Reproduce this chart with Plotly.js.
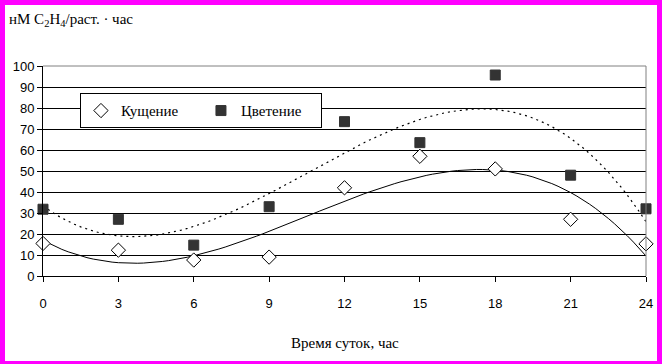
<!DOCTYPE html>
<html><head><meta charset="utf-8">
<script src="https://cdn.plot.ly/plotly-3.0.1.min.js"></script>
<style>
html,body{margin:0;padding:0;background:#ff00ff;width:662px;height:364px;overflow:hidden}
#wrap{position:absolute;left:5px;top:5px;width:652px;height:356px;background:#fff}
#chart{width:652px;height:356px}
</style></head>
<body><div id="wrap"><div id="chart"></div></div>
<script>
const hours = [0, 3, 6, 9, 12, 15, 18, 21, 24];
const tilleringValues = [15.5, 12.3, 7.6, 9, 42, 57, 51, 27, 15.3];
const floweringValues = [31.8, 27, 14.7, 33, 73.5, 63.5, 95.7, 48, 32];
const seriesNames = ['Кущение', 'Цветение'];
const yTicks = [0,10,20,30,40,50,60,70,80,90,100];
const xTicks = [0,3,6,9,12,15,18,21,24];

// Polynomial (cubic) least-squares trendline, like the spreadsheet trendline
function polyFit(xs, ys, deg) {
  const n = deg + 1;
  const A = Array.from({length: n}, () => new Array(n + 1).fill(0));
  for (let k = 0; k < xs.length; k++) {
    for (let i = 0; i < n; i++) {
      for (let j = 0; j < n; j++) A[i][j] += Math.pow(xs[k], i + j);
      A[i][n] += ys[k] * Math.pow(xs[k], i);
    }
  }
  for (let i = 0; i < n; i++) {
    let p = i;
    for (let r = i + 1; r < n; r++) if (Math.abs(A[r][i]) > Math.abs(A[p][i])) p = r;
    [A[i], A[p]] = [A[p], A[i]];
    for (let r = 0; r < n; r++) {
      if (r === i) continue;
      const f = A[r][i] / A[i][i];
      for (let c = i; c <= n; c++) A[r][c] -= f * A[i][c];
    }
  }
  return A.map((row, i) => row[n] / row[i]);
}
function trend(xs, ys) {
  const c = polyFit(xs, ys, 3);
  const tx = [], ty = [];
  for (let i = 0; i <= 96; i++) {
    const x = 24 * i / 96;
    tx.push(x);
    ty.push(c[0] + c[1]*x + c[2]*x*x + c[3]*x*x*x);
  }
  return {tx, ty};
}
const t1 = trend(hours, tilleringValues);
const t2 = trend(hours, floweringValues);

const serif = 'Liberation Serif';
const sans = 'Liberation Sans';

const traces = [
  {x: t1.tx, y: t1.ty, mode: 'lines', line: {color: '#000', width: 1}, showlegend: false, hoverinfo: 'skip'},
  {x: t2.tx, y: t2.ty, mode: 'lines', line: {color: '#000', width: 1.2, dash: '2px,4px'}, showlegend: false, hoverinfo: 'skip'},
  {x: hours, y: tilleringValues, name: seriesNames[0], mode: 'markers', cliponaxis: false,
   marker: {symbol: 'diamond', size: 11, color: '#fff', line: {color: '#000', width: 1}}},
  {x: hours, y: floweringValues, name: seriesNames[1], mode: 'markers', cliponaxis: false,
   marker: {symbol: 'square', size: 10, color: '#333', line: {color: '#333', width: 1}}}
];

const layout = {
  width: 652, height: 356,
  margin: {l: 38, r: 11, t: 61, b: 85},
  paper_bgcolor: '#fff', plot_bgcolor: '#fff',
  showlegend: true,
  legend: {orientation: 'h', x: 0.0613, y: 0.87, xanchor: 'left', yanchor: 'top',
    bgcolor: '#fff', bordercolor: '#000', borderwidth: 1, itemwidth: 30, entrywidth: 75,
    font: {family: serif, size: 15, color: '#000'}},
  xaxis: {range: [0, 24], tickvals: xTicks, ticktext: xTicks.map(String), showgrid: false, zeroline: false,
    showline: true, linecolor: '#000', linewidth: 1, ticks: 'outside', ticklen: 5, tickcolor: '#000',
    ticklabelstandoff: 10,
    tickfont: {family: sans, size: 13, color: '#000'}},
  yaxis: {range: [0, 100], tickvals: yTicks, ticktext: yTicks.map(String), showgrid: true, gridcolor: '#000', gridwidth: 1,
    zeroline: false, showline: true, linecolor: '#000', linewidth: 1, ticks: 'outside', ticklen: 5, tickcolor: '#000',
    tickfont: {family: sans, size: 13, color: '#000'}},
  shapes: [
    {type: 'line', xref: 'paper', yref: 'paper', x0: 0, x1: 1, y0: 1, y1: 1, line: {color: '#808080', width: 1}},
    {type: 'line', xref: 'paper', yref: 'paper', x0: 1, x1: 1, y0: 0, y1: 1, line: {color: '#808080', width: 1}}
  ],
  annotations: [
    {xref: 'paper', yref: 'paper', x: -0.06, y: 1.218, xanchor: 'left', yanchor: 'middle', showarrow: false,
     text: 'нМ C<sub>2</sub>H<sub>4</sub>/раст. · час',
     font: {family: serif, size: 15, color: '#000'}},
    {xref: 'paper', yref: 'paper', x: 0.5, y: -0.32, xanchor: 'center', yanchor: 'middle', showarrow: false,
     text: 'Время суток, час',
     font: {family: serif, size: 15, color: '#000'}}
  ]
};
Plotly.newPlot('chart', traces, layout, {staticPlot: true});
</script></body></html>
